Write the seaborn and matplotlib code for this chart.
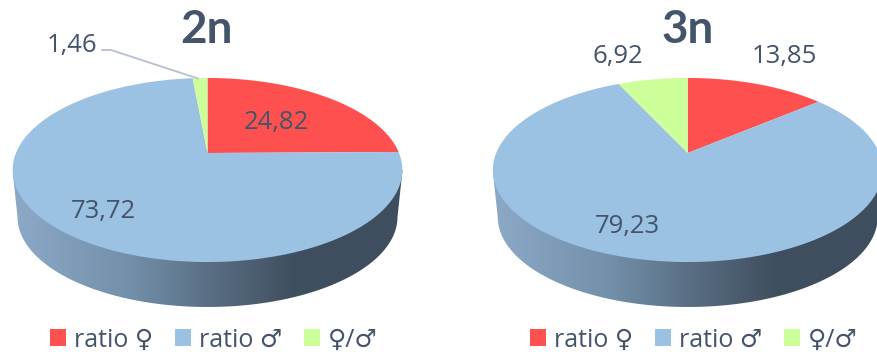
import numpy as np
import matplotlib
matplotlib.use("Agg")
import matplotlib.pyplot as plt
import seaborn as sns
from matplotlib.colors import LinearSegmentedColormap
from matplotlib.patches import PathPatch
from matplotlib.path import Path
from matplotlib.transforms import Transform

# ---- data ----
categories = ["ratio ♀", "ratio ♂", "♀/♂"]
panel_titles = ["2n", "3n"]
values_2n = [24.82, 73.72, 1.46]
values_3n = [13.85, 79.23, 6.92]
colors = ["#FF5050", "#9BC1E3", "#CCFF99"]

# ---- style ----
sns.set_theme(style="white")
plt.rcParams["font.family"] = ["Open Sans", "DejaVu Sans"]
TEXT = "#44546A"
W, H = 877, 358
SPLIT = 440
palette = sns.color_palette(colors)

# perspective of the pie's top face (pixels)
A, B, K = 191.5, 88.9, 0.1848
APEX_Y = 153
DEPTH_A, DEPTH_B, DEPTH_CY = 190, 90, 217
TOP_CY = 170
TOP_HALF = 195


class Perspective(Transform):
    """Maps the unit-circle pie onto the tilted disc in pixel coordinates."""
    input_dims = output_dims = 2
    is_separable = False
    has_inverse = False

    def __init__(self, cx):
        super().__init__()
        self.cx = cx

    def transform_non_affine(self, xy):
        xy = np.asarray(xy, float)
        w = 1 + K * xy[:, 1]
        return np.column_stack([self.cx + A * xy[:, 0] / w,
                                APEX_Y - B * xy[:, 1] / w])

    def transform_path_non_affine(self, path):
        pts = []
        for curve, code in path.iter_bezier():
            if code == Path.MOVETO:
                pts.append(curve.control_points[0][None, :])
            elif code == Path.LINETO:
                pts.append(curve.control_points[-1][None, :])
            else:
                pts.append(curve(np.linspace(0, 1, 24)[1:]))
        return Path(self.transform_non_affine(np.vstack(pts)))


wall_cmap = LinearSegmentedColormap.from_list(
    "wall",
    [(0.0, "#8CAAC8"), (0.30, "#7290A9"), (0.50, "#5A6F85"),
     (0.72, "#404F5F"), (1.0, "#3F4E5E")],
)


def draw_panel(ax, x0, x1, cx, values, title, title_xy, label_xy, leg_x):
    # side wall: gradient clipped to the visible rim
    t = np.linspace(np.pi, 2 * np.pi, 120)
    lower = np.column_stack([cx + DEPTH_A * np.cos(t),
                             DEPTH_CY - DEPTH_B * np.sin(t)])
    verts = np.vstack([[cx - TOP_HALF, TOP_CY], lower, [cx + TOP_HALF, TOP_CY]])
    wall = PathPatch(Path(verts), fc="none", ec="none")
    ax.add_patch(wall)
    im = ax.imshow(np.linspace(0, 1, 256)[None, :], cmap=wall_cmap, aspect="auto",
                   extent=[cx - TOP_HALF, cx + TOP_HALF, 320, 160], zorder=1)
    im.set_clip_path(wall)

    # top face
    wedges, _ = ax.pie(values, colors=palette, startangle=90, counterclock=False,
                       wedgeprops=dict(linewidth=0, zorder=2))
    proj = Perspective(cx) + ax.transData
    for w in wedges:
        w.set_transform(proj)
        w.set_clip_on(True)
    ax.set_aspect("auto")
    ax.set_xlim(x0, x1)
    ax.set_ylim(H, 0)
    ax.axis("off")

    ax.text(*title_xy, title, ha="center", va="baseline", fontsize=33,
            fontweight="bold", color=TEXT, family="Lato")
    for v, xy in zip(values, label_xy):
        ax.text(*xy, f"{v:.2f}".replace(".", ","), ha="center", va="baseline",
                fontsize=18.5, color=TEXT, zorder=4)

    leg = ax.legend(wedges, categories, ncol=3, frameon=False, loc="center left",
                    bbox_to_anchor=((leg_x - x0) / (x1 - x0), (H - 340) / H),
                    borderaxespad=0, borderpad=0, handlelength=0.64, handleheight=0.64,
                    handletextpad=0.32, columnspacing=0.87, fontsize=18,
                    labelcolor=TEXT)
    return leg


fig = plt.figure(figsize=(W / 100, H / 100), dpi=100, facecolor="white")
ax1 = fig.add_axes([0, 0, SPLIT / W, 1])
ax2 = fig.add_axes([SPLIT / W, 0, 1 - SPLIT / W, 1])

draw_panel(ax1, 0, SPLIT, 207.5, values_2n, panel_titles[0], (207, 43),
           [(276, 129), (103, 218), (72, 52)], 50)
draw_panel(ax2, SPLIT, W, 687.7, values_3n, panel_titles[1], (688, 43),
           [(784, 63), (627.5, 233), (618, 63)], 530)

# leader line for the small slice
ax1.plot([102, 111, 198], [50, 50, 78.5], color="#B8C4D6", lw=1.4, zorder=3,
         solid_capstyle="round")

fig.savefig("out.png", dpi=100)
